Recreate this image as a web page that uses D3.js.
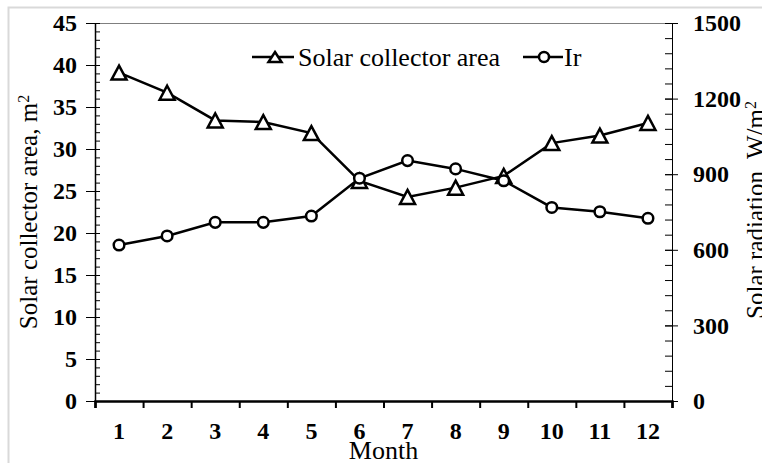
<!DOCTYPE html>
<html>
<head>
<meta charset="utf-8">
<script src="https://cdn.jsdelivr.net/npm/d3@7"></script>
<style>
  html, body { margin: 0; padding: 0; background: #fff; }
  svg { display: block; }
  text { font-family: "Liberation Serif", "Times New Roman", serif; fill: #000; }
</style>
</head>
<body>
<svg id="chart" width="762" height="463"></svg>
<script>
// Monthly collector area (left axis, m²) and solar radiation Ir (right axis, W/m²)
const months = [1, 2, 3, 4, 5, 6, 7, 8, 9, 10, 11, 12];
const collectorArea = [39.1, 36.7, 33.4, 33.2, 31.9, 26.2, 24.3, 25.4, 26.8, 30.7, 31.6, 33.1];
const irradiation = [619, 655, 709, 709, 734, 884, 954, 921, 874, 768, 751, 725];
const leftTicks = [0, 5, 10, 15, 20, 25, 30, 35, 40, 45];
const rightTicks = [0, 300, 600, 900, 1200, 1500];

const svg = d3.select("#chart");
const W = 762, H = 463;
const plot = { left: 95, right: 672, top: 23, bottom: 401 };
const tickFont = 24, titleFont = 26;

// frame around the figure
svg.append("path")
  .attr("d", `M8.5,${H} L8.5,7.5 L${W},7.5`)
  .attr("fill", "none").attr("stroke", "#d9d9d9").attr("stroke-width", 2);

const x = d3.scaleBand().domain(months).range([plot.left, plot.right]);
const xEdge = d3.scaleLinear().domain([0, months.length]).range([plot.left, plot.right]);
const yL = d3.scaleLinear().domain([0, 45]).range([plot.bottom, plot.top]);
const yR = d3.scaleLinear().domain([0, 1500]).range([plot.bottom, plot.top]);

// top border of the plot area
svg.append("line")
  .attr("x1", plot.left).attr("x2", plot.right)
  .attr("y1", plot.top + 0.5).attr("y2", plot.top + 0.5)
  .attr("stroke", "#7f7f7f").attr("stroke-width", 1);

const styleTickText = sel => sel.selectAll(".tick text")
  .attr("font-size", tickFont).attr("font-weight", "bold")
  .attr("font-family", "Liberation Serif");

// left axis: minor ticks inside, major ticks crossing
const gL = svg.append("g").attr("transform", `translate(${plot.left},0)`);
gL.call(d3.axisLeft(yL).tickValues(d3.range(0, 46, 1)).tickSize(-5).tickFormat(""));
gL.call(g => g.select(".domain").remove());
const gLM = svg.append("g").attr("transform", `translate(${plot.left},0)`);
gLM.call(d3.axisLeft(yL).tickValues(leftTicks).tickSizeInner(9).tickSizeOuter(0).tickPadding(9));
gLM.selectAll(".tick line").attr("x1", -9).attr("x2", 5);
gLM.select(".domain").attr("stroke-width", 1.5);
styleTickText(gLM);

// right axis: minor ticks inside, major ticks crossing
const gR = svg.append("g").attr("transform", `translate(${plot.right},0)`);
gR.call(d3.axisRight(yR).tickValues(d3.range(0, 1501, 60)).tickSize(-7).tickFormat(""));
gR.call(g => g.select(".domain").remove());
const gRM = svg.append("g").attr("transform", `translate(${plot.right},0)`);
gRM.call(d3.axisRight(yR).tickValues(rightTicks).tickFormat(d3.format("d"))
  .tickSizeInner(6).tickSizeOuter(0).tickPadding(15));
gRM.selectAll(".tick line").attr("x1", -7).attr("x2", 6);
styleTickText(gRM);

// bottom axis: ticks at month boundaries, labels at month centres
const gB = svg.append("g").attr("transform", `translate(0,${plot.bottom})`);
gB.call(d3.axisBottom(xEdge).tickValues(d3.range(0, months.length + 1)).tickSize(7).tickFormat(""));
gB.select(".domain").attr("stroke-width", 2.5);
gB.selectAll(".tick line").attr("stroke-width", 2);
const gBL = svg.append("g").attr("transform", `translate(0,${plot.bottom})`);
gBL.call(d3.axisBottom(x).tickSize(0).tickPadding(21));
gBL.select(".domain").remove();
styleTickText(gBL);

// axis titles
svg.append("text")
  .attr("x", (plot.left + plot.right) / 2).attr("y", 459)
  .attr("text-anchor", "middle").attr("font-size", titleFont)
  .text("Month");

const tL = svg.append("text")
  .attr("transform", `translate(37,${(plot.top + plot.bottom) / 2}) rotate(-90)`)
  .attr("text-anchor", "middle").attr("font-size", 25);
tL.append("tspan").text("Solar collector area, m");
tL.append("tspan").attr("baseline-shift", "super").attr("font-size", 16).text("2");

const tR = svg.append("text")
  .attr("transform", `translate(764,${(plot.top + plot.bottom) / 2 - 2}) rotate(-90)`)
  .attr("text-anchor", "middle").attr("font-size", 25);
tR.append("tspan").text("Solar radiation\u00A0 W/m");
tR.append("tspan").attr("baseline-shift", "super").attr("font-size", 16).text("2");

// marker shapes
const triPath = (w, h) => `M0,${-h / 2} L${w / 2},${h / 2} L${-w / 2},${h / 2} Z`;
const cx = m => x(m) + x.bandwidth() / 2;

// series lines
const lineArea = d3.line().x((d, i) => cx(months[i])).y(d => yL(d));
const lineIr = d3.line().x((d, i) => cx(months[i])).y(d => yR(d));

svg.append("path").datum(collectorArea).attr("d", lineArea)
  .attr("fill", "none").attr("stroke", "#000").attr("stroke-width", 2.5);
svg.append("path").datum(irradiation).attr("d", lineIr)
  .attr("fill", "none").attr("stroke", "#000").attr("stroke-width", 2.5);

svg.append("g").selectAll("path").data(collectorArea).join("path")
  .attr("transform", (d, i) => `translate(${cx(months[i])},${yL(d)})`)
  .attr("d", triPath(15, 14))
  .attr("fill", "#fff").attr("stroke", "#000").attr("stroke-width", 2.5);

svg.append("g").selectAll("circle").data(irradiation).join("circle")
  .attr("cx", (d, i) => cx(months[i])).attr("cy", d => yR(d)).attr("r", 5.3)
  .attr("fill", "#fff").attr("stroke", "#000").attr("stroke-width", 2.5);

// legend
const legY = 57;
const leg = svg.append("g");
leg.append("line").attr("x1", 252).attr("x2", 294).attr("y1", legY).attr("y2", legY)
  .attr("stroke", "#000").attr("stroke-width", 2.5);
leg.append("path").attr("transform", `translate(275,${legY})`).attr("d", triPath(13, 10))
  .attr("fill", "#fff").attr("stroke", "#000").attr("stroke-width", 2.5);
leg.append("text").attr("x", 298).attr("y", legY + 9).attr("font-size", titleFont)
  .text("Solar collector area");
leg.append("line").attr("x1", 523).attr("x2", 563).attr("y1", legY).attr("y2", legY)
  .attr("stroke", "#000").attr("stroke-width", 2.5);
leg.append("circle").attr("cx", 544).attr("cy", legY).attr("r", 5)
  .attr("fill", "#fff").attr("stroke", "#000").attr("stroke-width", 2.5);
leg.append("text").attr("x", 564).attr("y", legY + 9).attr("font-size", titleFont)
  .text("Ir");
</script>
</body>
</html>
